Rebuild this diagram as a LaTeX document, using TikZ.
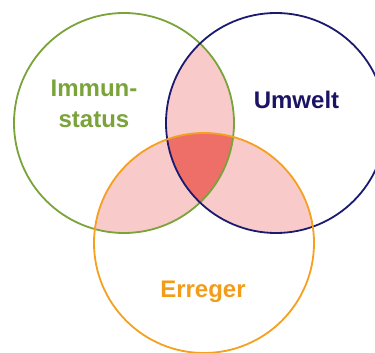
\documentclass[tikz,border=0pt]{standalone}
\usepackage{fontspec}
\setmainfont{Liberation Sans}
\definecolor{cgreen}{HTML}{7AA33A}
\definecolor{cblue}{HTML}{1B1A6E}
\definecolor{corange}{HTML}{F5A01E}
\definecolor{cpink}{HTML}{F8CACA}
\definecolor{cred}{HTML}{EE6E68}
\definecolor{tgreen}{HTML}{7AA33A}
\definecolor{tblue}{HTML}{1B1464}
\definecolor{torange}{HTML}{F39C1A}
\begin{document}
\begin{tikzpicture}[x=1pt,y=-1pt,
  ring/.style={line width=1.8pt},
  lbl/.style={font=\fontsize{24}{31}\selectfont\bfseries, align=center, inner sep=0pt}]
\useasboundingbox (0,0) rectangle (375,353);
\clip (0,0) rectangle (375,353);
\coordinate (G) at (124,123);
\coordinate (B) at (276,123);
\coordinate (O) at (204,243);
\def\R{110}
% pairwise intersections
\begin{scope}
  \clip (G) circle (\R);
  \fill[cpink] (B) circle (\R);
  \fill[cpink] (O) circle (\R);
\end{scope}
\begin{scope}
  \clip (B) circle (\R);
  \fill[cpink] (O) circle (\R);
\end{scope}
% triple intersection
\begin{scope}
  \clip (G) circle (\R);
  \clip (B) circle (\R);
  \fill[cred] (O) circle (\R);
\end{scope}
% outlines
\draw[ring, cgreen] (G) circle (\R);
\draw[ring, cblue] (B) circle (\R);
\draw[ring, corange] (O) circle (\R);
% labels
\node[lbl, text=tgreen] (immun) at (94,104) {Immun-\\status};
\node[lbl, text=tblue] (umwelt) at (296.5,100) {Umwelt};
\node[lbl, text=torange, anchor=base] (erreger) at (203,297) {Erreger};
\end{tikzpicture}
\end{document}
